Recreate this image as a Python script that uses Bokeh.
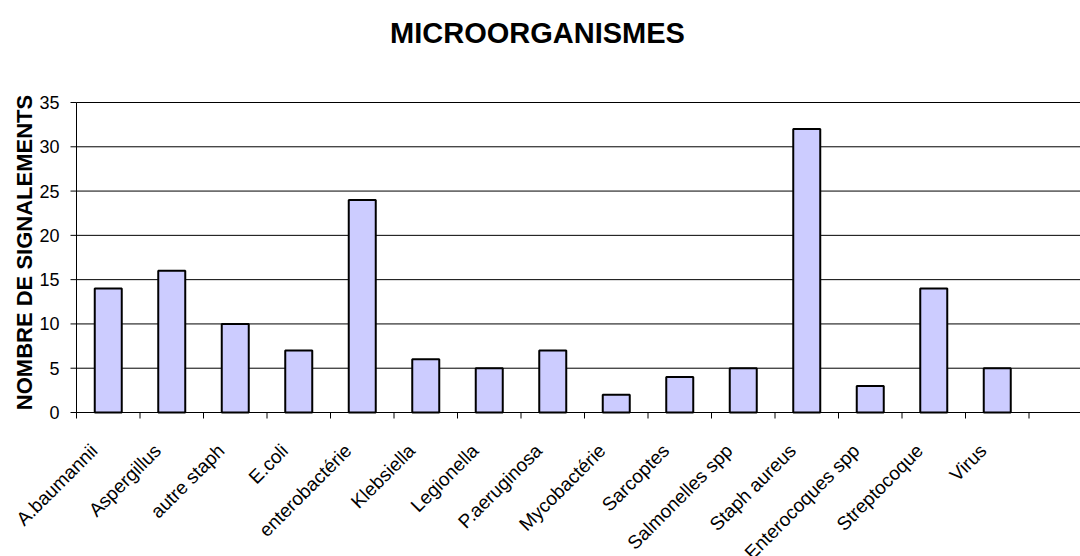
import math
from bokeh.plotting import figure
from bokeh.models import ColumnDataSource, LabelSet, Label
from bokeh.core.properties import value
from bokeh.embed import file_html
from bokeh.resources import INLINE

categories = ["A.baumannii", "Aspergillus", "autre staph", "E.coli", "enterobactérie",
              "Klebsiella", "Legionella", "P.aeruginosa", "Mycobactérie", "Sarcoptes",
              "Salmonelles spp", "Staph aureus", "Enterocoques spp", "Streptocoque", "Virus"]
counts = [14, 16, 10, 7, 24, 6, 5, 7, 2, 4, 5, 32, 3, 14, 5]
y_ticks = [0, 5, 10, 15, 20, 25, 30, 35]
y_tick_labels = ["0", "5", "10", "15", "20", "25", "30", "35"]
title_text = "MICROORGANISMES"
y_title = "NOMBRE DE SIGNALEMENTS"

FONT = "Liberation Sans"
W, H = 1080, 556
LEFT = 76                 # pixel x of the value axis
Y_TOP, Y_BOT = 102, 412   # pixel y of the top value and of 0
CAT_W = 63.5              # pixel width of one category slot
Y_MAX = y_ticks[-1]

ppu = (Y_BOT - Y_TOP) / Y_MAX           # pixels per value unit
x_start = -LEFT / CAT_W
x_end = (W - LEFT) / CAT_W
y_start = -(H - Y_BOT) / ppu
y_end = Y_MAX + Y_TOP / ppu


def px_x(px):
    return (px - LEFT) / CAT_W


def px_y(py):
    return (Y_BOT - py) / ppu


n = len(categories)
centers = [i + 0.5 for i in range(n)]
src = ColumnDataSource(dict(x=centers, top=counts, name=categories, zero=[0] * n))
bounds = list(range(0, n + 2))

p = figure(width=W, height=H, output_backend="svg", toolbar_location=None,
           x_range=(x_start, x_end), y_range=(y_start, y_end),
           min_border_left=0, min_border_right=0,
           min_border_top=0, min_border_bottom=0)
p.outline_line_color = None
p.background_fill_color = "white"
p.border_fill_color = "white"
p.axis.visible = False
p.grid.visible = False

# horizontal grid lines at value ticks
p.segment(x0=[0] * len(y_ticks), y0=y_ticks, x1=[x_end] * len(y_ticks), y1=y_ticks,
          line_color="black", line_width=1)

# bars
p.vbar(x="x", top="top", bottom=0, width=27 / CAT_W, source=src,
       fill_color="#CCCCFF", line_color="black", line_width=2)

# value axis line, ticks and labels
p.segment(x0=[0], y0=[0], x1=[0], y1=[Y_MAX], line_color="black", line_width=1)
p.segment(x0=[-6 / CAT_W] * len(y_ticks), y0=y_ticks, x1=[0] * len(y_ticks), y1=y_ticks,
          line_color="black", line_width=1)
p.text(x=[0] * len(y_ticks), y=y_ticks, text=y_tick_labels, x_offset=-17,
       text_align="right", text_baseline="middle",
       text_font=value(FONT), text_font_size="18px", text_color="black")
p.text(x=[px_x(24)], y=[px_y(252)], text=[y_title], angle=math.pi / 2,
       text_align="center", text_baseline="middle",
       text_font=value(FONT), text_font_size="22px", text_font_style="bold",
       text_color="black")

# category axis line, ticks and labels
p.segment(x0=[0], y0=[0], x1=[x_end], y1=[0], line_color="black", line_width=1)
p.segment(x0=bounds, y0=[0] * len(bounds), x1=bounds, y1=[-6 / ppu] * len(bounds),
          line_color="black", line_width=1)
labels = LabelSet(x="x", y="zero", text="name", source=src,
                  angle=math.pi / 4, text_align="right", text_baseline="middle",
                  x_offset=-14, y_offset=-35,
                  text_font=value(FONT), text_font_size="19px", text_color="black")
p.add_layout(labels)

# chart title
title = Label(x=px_x(537), y=px_y(32), text=title_text,
              text_align="center", text_baseline="middle",
              text_font=FONT, text_font_size="29px", text_font_style="bold",
              text_color="black")
p.add_layout(title)

open("out.html", "w").write(file_html(p, INLINE))
